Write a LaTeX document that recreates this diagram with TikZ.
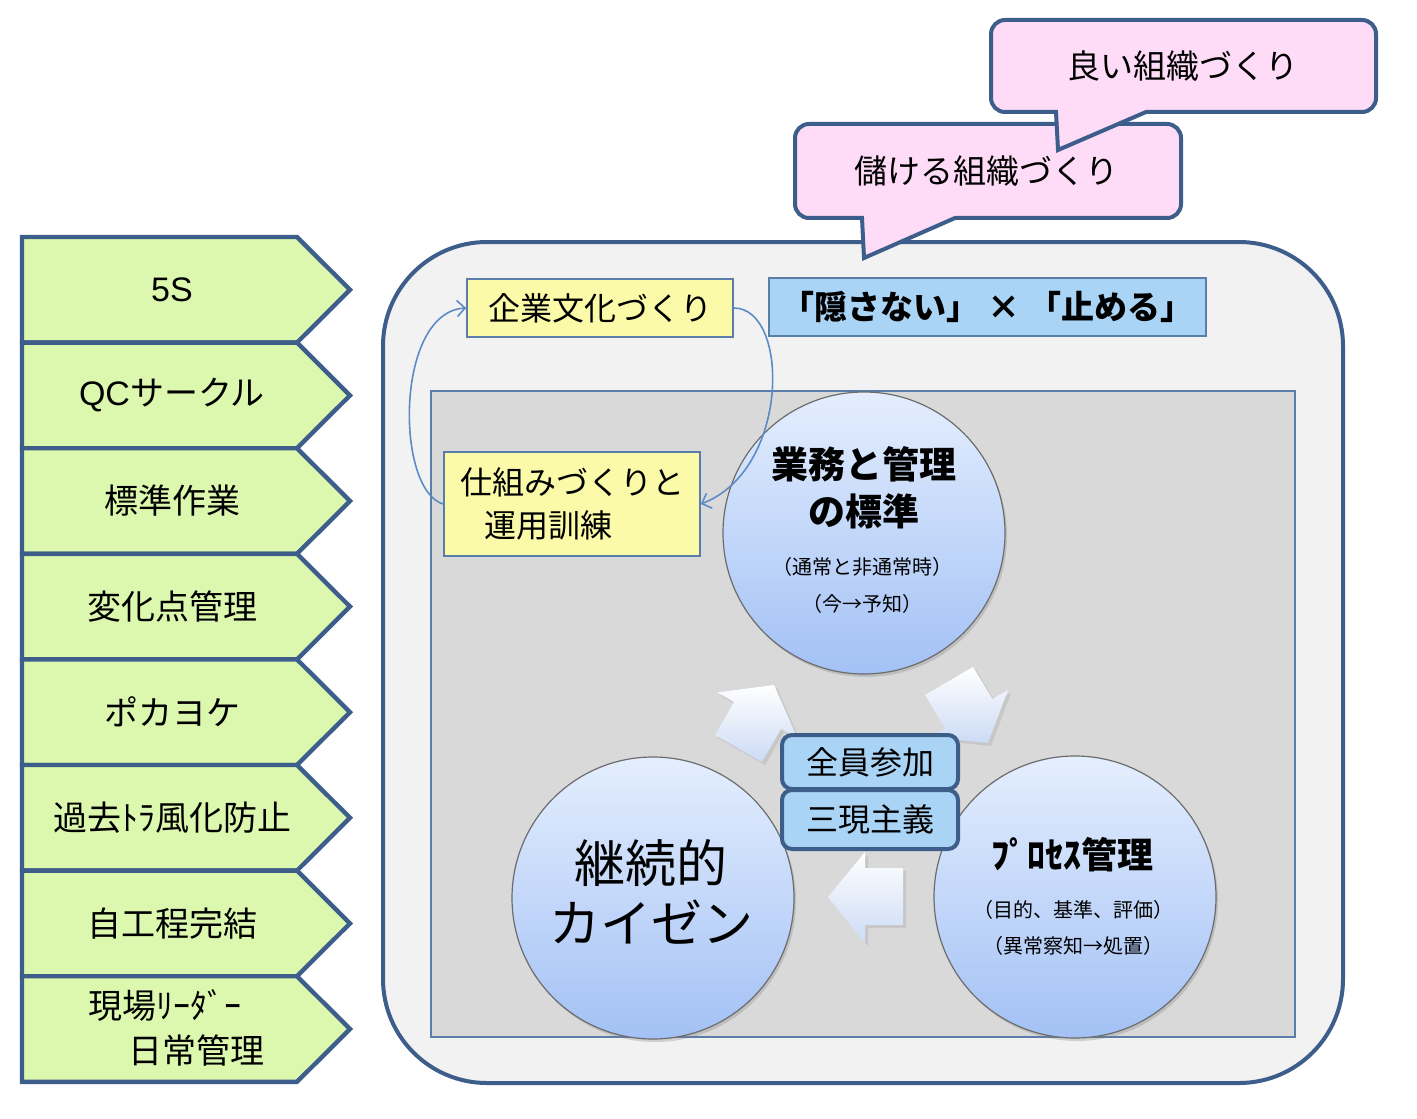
\documentclass[tikz,border=0pt]{standalone}
\usepackage{fontspec}
\setmainfont{Noto Sans CJK JP}
\newfontfamily\latinsans{Liberation Sans}
\usetikzlibrary{arrows.meta,shadows}
\definecolor{navy}{HTML}{3D5E8A}
\definecolor{chevgreen}{HTML}{DCF8AE}
\definecolor{pinkfill}{HTML}{FEDCF8}
\definecolor{framefill}{HTML}{F2F2F2}
\definecolor{greyfill}{HTML}{D9D9D9}
\definecolor{yellowfill}{HTML}{FBFAA9}
\definecolor{skyfill}{HTML}{AAD4F6}
\definecolor{thinblue}{HTML}{5A7DAA}
\definecolor{curveblue}{HTML}{5C8BC5}
\definecolor{circtop}{HTML}{E4EEFE}
\definecolor{circbot}{HTML}{A3C1F5}
\definecolor{arrowbot}{HTML}{CCDBF5}
\begin{document}
\begin{tikzpicture}[x=0.5pt,y=-0.5pt,
  chev/.style={fill=chevgreen,draw=navy,line width=2.2pt},
  chevlabel/.style={inner sep=0pt,font=\fontsize{17}{22.5}\selectfont},
  bubble/.style={fill=pinkfill,draw=navy,line width=2pt},
  bubbletext/.style={inner sep=0pt,font=\fontsize{16.5}{20}\selectfont},
  yellowbox/.style={draw=thinblue,line width=0.8pt,fill=yellowfill,inner sep=0pt,font=\fontsize{16}{21.5}\selectfont},
  bluebox/.style={draw=thinblue,line width=0.8pt,fill=skyfill,inner sep=0pt,font=\bfseries\fontsize{16.5}{20}\selectfont},
  circ/.style={circle,draw=gray!85!black,line width=0.6pt,top color=circtop,bottom color=circbot,minimum size=141pt,inner sep=0pt,drop shadow={shadow xshift=1pt,shadow yshift=-1.5pt,opacity=0.3}},
  blockarrow/.style={top color=white,bottom color=arrowbot,drop shadow={shadow xshift=1.5pt,shadow yshift=-1.5pt,opacity=0.2}},
  pillbox/.style={draw=navy,line width=2pt,fill=skyfill,rounded corners=5pt,minimum width=88pt,inner sep=0pt,font=\fontsize{16}{18}\selectfont},
  conn/.style={draw=curveblue,line width=0.8pt,-{Straight Barb[length=4pt,width=8pt]}},
  plain/.style={inner sep=0pt,align=center}
]
\path[use as bounding box,fill=white] (0,0) rectangle (1417,1118);

% left chevrons
\foreach \lab [count=\i] in {{\latinsans 5S},{\latinsans QC}サークル,標準作業,変化点管理,ポカヨケ,過去ﾄﾗ風化防止,自工程完結}{
  \pgfmathsetmacro\yt{237+(\i-1)*105.6}
  \pgfmathsetmacro\yb{\yt+105.6}
  \pgfmathsetmacro\ym{\yt+52.8}
  \draw[chev] (22,\yt) -- (297,\yt) -- (350,\ym) -- (297,\yb) -- (22,\yb) -- cycle;
  \node[chevlabel] (lab\i) at (172,\ym) {\lab};
}
\draw[chev] (22,976.2) -- (297,976.2) -- (350,1029) -- (297,1081.8) -- (22,1081.8) -- cycle;
\node[chevlabel,align=left,anchor=west] (lab8) at (88,1028) {現場ﾘｰﾀﾞｰ\\\hspace*{20pt}日常管理};

% main frame
\node[draw=navy,line width=2pt,fill=framefill,rounded corners=52pt,minimum width=480pt,minimum height=420.5pt,inner sep=0pt] (frame) at (863,662.5) {};

% callouts
\draw[bubble] (864,258) -- (955,218) -- (1167,218) arc[start angle=90,end angle=0,radius=14] -- (1181,138) arc[start angle=0,end angle=-90,radius=14] -- (809,124) arc[start angle=-90,end angle=-180,radius=14] -- (795,204) arc[start angle=180,end angle=90,radius=14] -- (862,218) -- cycle;
\node[bubbletext] (moukeru) at (986,171) {儲ける組織づくり};
\draw[bubble] (1058,150) -- (1146,112) -- (1362,112) arc[start angle=90,end angle=0,radius=14] -- (1376,34) arc[start angle=0,end angle=-90,radius=14] -- (1005,20) arc[start angle=-90,end angle=-180,radius=14] -- (991,98) arc[start angle=180,end angle=90,radius=14] -- (1056,112) -- cycle;
\node[bubbletext] (yoi) at (1183,66) {良い組織づくり};

% top boxes
\node[yellowbox,minimum width=133pt,minimum height=29pt] (kigyo) at (600,308) {企業文化づくり};
\node[bluebox,minimum width=218.5pt,minimum height=29pt] (kakusu) at (987.5,307) {「隠さない」 × 「止める」};

% grey stage
\node[draw=thinblue,line width=0.8pt,fill=greyfill,minimum width=432pt,minimum height=323pt,inner sep=0pt] (stage) at (863,714) {};
\node[yellowbox,minimum width=128pt,minimum height=52pt,align=left] (shikumi) at (572,504) {仕組みづくりと\\\hspace*{12pt}運用訓練};

% circles
\node[circ] (gyomu) at (864,533) {};
\node[circ] (keizoku) at (653,898) {};
\node[circ] (process) at (1075,897) {};
\node[plain,font=\bfseries\fontsize{18.5}{23.5}\selectfont] (gyomuT) at (864,488) {業務と管理\\の標準};
\node[plain,font=\fontsize{10}{18.5}\selectfont] (gyomuS) at (862,585) {（通常と非通常時）\\（今→予知）};
\node[plain,font=\fontsize{25.5}{30}\selectfont] (keizokuT) at (651,892) {継続的\\カイゼン};
\node[plain,font=\bfseries\fontsize{18}{22}\selectfont] (processT) at (1072,855) {ﾌﾟﾛｾｽ管理};
\node[plain,font=\fontsize{10}{18}\selectfont] (processS) at (1073,928) {（目的、基準、評価）\\（異常察知→処置）};

% block arrows
\path[blockarrow] (715,735) -- (734,702) -- (717.5,692.4) -- (774,685) -- (797.5,738.4) -- (781,729) -- (762,762) -- cycle;
\path[blockarrow] (925,695) -- (973,667) -- (992.5,699) -- (1008,690) -- (988,743) -- (930,737) -- (945,728) -- cycle;
\path[blockarrow] (828,897) -- (865,852) -- (865,868) -- (903,868) -- (903,925) -- (865,925) -- (865,943) -- cycle;

% centre boxes
\node[pillbox,minimum height=27pt] (zenin) at (870,762) {全員参加};
\node[pillbox,minimum height=29.5pt] (sangen) at (870,819.5) {三現主義};

% curved connectors
\draw[conn] (kigyo.east) .. controls (790,308) and (790,470) .. (shikumi.east);
\draw[conn] (shikumi.west) .. controls (395,490) and (395,312) .. (kigyo.west);
\end{tikzpicture}
\end{document}
